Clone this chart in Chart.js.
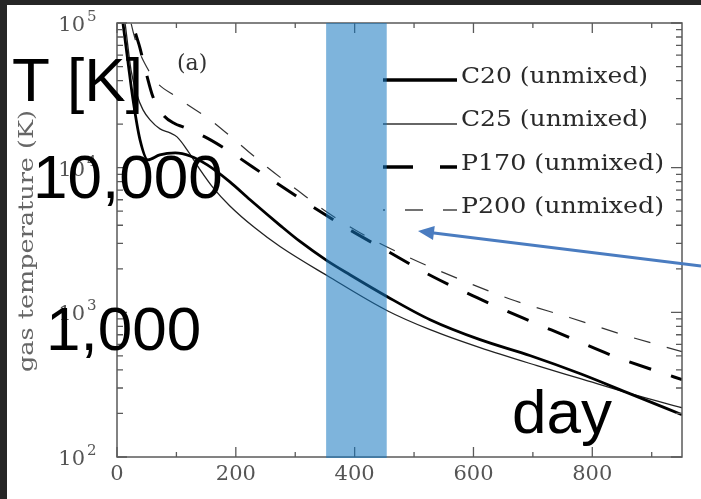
<!DOCTYPE html>
<html>
<head>
<meta charset="utf-8">
<script src="https://cdn.jsdelivr.net/npm/chart.js@4"></script>
<style>
  html, body { margin: 0; padding: 0; background: #262626; }
  canvas { display: block; }
</style>
</head>
<body>
<canvas id="tempChart" width="701" height="499"></canvas>
<script>
// days since explosion and gas temperature (K) for each model
const c20Day  = [2, 10, 18.5, 27, 38.7, 52, 72, 98, 123, 152, 190, 224, 275, 308, 354, 392, 455, 527, 611, 696, 780, 864, 951];
const c20Temp = [169000, 100000, 53800, 29400, 15600, 11320, 12250, 12640, 12050, 10450, 7980, 6000, 3980, 3090, 2270, 1820, 1282, 889, 647, 501, 376, 273, 196];

const c25Day  = [2, 13.5, 23.6, 33.7, 43.8, 55.6, 72.4, 89.3, 101, 118, 140, 162, 190, 232, 275, 354, 455, 527, 611, 707, 780, 864, 951];
const c25Temp = [198000, 100000, 47300, 31800, 25100, 21400, 18540, 17400, 16320, 13290, 9660, 7250, 5440, 3840, 2840, 1790, 1026, 759, 570, 428, 348, 274, 219];

const p170Day  = [18.5, 27, 38.7, 50, 60, 77.5, 97.7, 111, 148, 185, 253, 322, 389, 460, 532, 606, 682, 758, 834, 911, 951];
const p170Temp = [169000, 100000, 67100, 43700, 31300, 23200, 20100, 19140, 16320, 13290, 8640, 5620, 3780, 2580, 1762, 1262, 918, 679, 502, 389, 343];

const p200Day  = [15, 23.6, 55.6, 103, 157, 204, 254, 305, 355, 409, 493, 583, 670, 763, 852, 951];
const p200Temp = [169000, 100000, 45200, 30300, 21400, 14830, 9980, 6920, 4880, 3550, 2380, 1652, 1202, 918, 700, 535];

const modelNames = ["C20 (unmixed)", "C25 (unmixed)", "P170 (unmixed)", "P200 (unmixed)"];

// axis ticks
const xMajorTicks = [0, 200, 400, 600, 800];
const xMinorTicks = [100, 300, 500, 700, 900];
const yDecades = [100, 1000, 10000, 100000];
const yExponents = ["2", "3", "4", "5"];

// shaded window (days)
const bandStart = 352;
const bandEnd = 454;

function toPoints(days, temps) {
    return days.map((d, i) => ({ x: d, y: temps[i] }));
}

// stretch text horizontally to a given width
function fillFit(ctx, text, x, y, width) {
    const w = ctx.measureText(text).width;
    ctx.save();
    ctx.translate(x, y);
    ctx.scale(width / w, 1);
    ctx.fillText(text, 0, 0);
    ctx.restore();
}

const background = {
    id: "background",
    beforeDraw(chart) {
        const ctx = chart.ctx;
        ctx.save();
        ctx.fillStyle = "#262626";
        ctx.fillRect(0, 0, chart.width, chart.height);
        ctx.fillStyle = "#ffffff";
        ctx.fillRect(7, 5, chart.width - 7, chart.height - 5);
        ctx.restore();
    }
};

const decorations = {
    id: "decorations",
    afterDatasetsDraw(chart) {
        const ctx = chart.ctx;
        const xs = chart.scales.x;
        const ys = chart.scales.y;
        const area = chart.chartArea;
        ctx.save();

        // frame
        ctx.strokeStyle = "#5a5a5a";
        ctx.lineWidth = 1.5;
        ctx.strokeRect(area.left, area.top, area.right - area.left, area.bottom - area.top);

        // x ticks, top and bottom, pointing inwards
        ctx.lineWidth = 1.3;
        ctx.beginPath();
        xMajorTicks.forEach(v => {
            const px = xs.getPixelForValue(v);
            ctx.moveTo(px, area.bottom); ctx.lineTo(px, area.bottom - 10);
            ctx.moveTo(px, area.top); ctx.lineTo(px, area.top + 10);
        });
        xMinorTicks.forEach(v => {
            const px = xs.getPixelForValue(v);
            ctx.moveTo(px, area.bottom); ctx.lineTo(px, area.bottom - 5);
            ctx.moveTo(px, area.top); ctx.lineTo(px, area.top + 5);
        });
        // y ticks, left and right
        yDecades.forEach((dec, i) => {
            const py = ys.getPixelForValue(dec);
            ctx.moveTo(area.left, py); ctx.lineTo(area.left + 10, py);
            ctx.moveTo(area.right, py); ctx.lineTo(area.right - 11, py);
            if (i < yDecades.length - 1) {
                for (let m = 2; m <= 9; m++) {
                    const pm = ys.getPixelForValue(dec * m);
                    ctx.moveTo(area.left, pm); ctx.lineTo(area.left + 6, pm);
                    ctx.moveTo(area.right, pm); ctx.lineTo(area.right - 6, pm);
                }
            }
        });
        ctx.stroke();

        // legend
        const legendX0 = 383, legendX1 = 457, legendTextX = 461;
        const rows = [
            { y: 80, width: 3.5, color: "#000", dash: [] },
            { y: 124, width: 1.3, color: "#333", dash: [] },
            { y: 167, width: 3.5, color: "#000", dash: [30, 27] },
            { y: 210, width: 1.3, color: "#444", dash: [18, 20], offset: -22 }
        ];
        const textY = [83, 126, 170, 213];
        const textW = [187, 187, 203, 203];
        rows.forEach(r => {
            ctx.beginPath();
            ctx.setLineDash(r.dash);
            ctx.lineDashOffset = r.offset || 0;
            ctx.strokeStyle = r.color;
            ctx.lineWidth = r.width;
            ctx.moveTo(legendX0, r.y);
            ctx.lineTo(legendX1, r.y);
            ctx.stroke();
        });
        ctx.setLineDash([]);
        ctx.fillStyle = "#2a2a2a";
        ctx.font = "23px 'DejaVu Serif'";
        ctx.textBaseline = "alphabetic";
        ctx.textAlign = "left";
        modelNames.forEach((name, i) => fillFit(ctx, name, legendTextX, textY[i], textW[i]));

        // shaded window on top of the curves
        const b0 = xs.getPixelForValue(bandStart);
        const b1 = xs.getPixelForValue(bandEnd);
        ctx.fillStyle = "rgba(20, 118, 191, 0.55)";
        ctx.fillRect(b0, area.top, b1 - b0, area.bottom - area.top + 1);

        // arrow pointing at the window
        const tipX = 418, tipY = 231;
        const tailX = 701, tailY = 266;
        const ang = Math.atan2(tailY - tipY, tailX - tipX);
        ctx.strokeStyle = "#4a7cc0";
        ctx.fillStyle = "#4a7cc0";
        ctx.lineWidth = 3;
        ctx.beginPath();
        ctx.moveTo(tailX, tailY);
        ctx.lineTo(tipX + 12 * Math.cos(ang), tipY + 12 * Math.sin(ang));
        ctx.stroke();
        ctx.beginPath();
        ctx.moveTo(tipX, tipY);
        ctx.lineTo(tipX + 16 * Math.cos(ang) - 7 * Math.sin(ang), tipY + 16 * Math.sin(ang) + 7 * Math.cos(ang));
        ctx.lineTo(tipX + 16 * Math.cos(ang) + 7 * Math.sin(ang), tipY + 16 * Math.sin(ang) - 7 * Math.cos(ang));
        ctx.closePath();
        ctx.fill();

        // tick labels
        ctx.fillStyle = "#555";
        ctx.font = "21px 'DejaVu Serif'";
        ctx.textAlign = "center";
        xMajorTicks.forEach(v => ctx.fillText(String(v), xs.getPixelForValue(v), 480));
        yDecades.forEach((dec, i) => {
            const py = ys.getPixelForValue(dec);
            ctx.textAlign = "right";
            ctx.font = "21px 'DejaVu Serif'";
            ctx.fillText("10", 85, py + 8);
            ctx.textAlign = "left";
            ctx.font = "15px 'DejaVu Serif'";
            ctx.fillText(yExponents[i], 87, py - 2);
        });

        // axis title
        ctx.save();
        ctx.translate(33, 241);
        ctx.rotate(-Math.PI / 2);
        ctx.font = "20px 'DejaVu Serif'";
        ctx.textAlign = "left";
        ctx.fillStyle = "#666";
        fillFit(ctx, "gas temperature (K)", -131, 0, 262);
        ctx.restore();

        // panel label
        ctx.fillStyle = "#333";
        ctx.font = "22px 'DejaVu Serif'";
        ctx.textAlign = "left";
        ctx.fillText("(a)", 177, 70);

        // large annotations
        ctx.fillStyle = "#000";
        ctx.font = "62px 'Liberation Sans'";
        ctx.fillText("T [K]", 12, 101);
        ctx.fillText("10,000", 33, 198);
        ctx.fillText("1,000", 46, 350);
        ctx.fillText("day", 512, 433);

        ctx.restore();
    }
};

const ctx = document.getElementById("tempChart").getContext("2d");

new Chart(ctx, {
    type: "line",
    data: {
        datasets: [
            {
                label: modelNames[0],
                data: toPoints(c20Day, c20Temp),
                borderColor: "#000",
                borderWidth: 2.8
            },
            {
                label: modelNames[1],
                data: toPoints(c25Day, c25Temp),
                borderColor: "#222",
                borderWidth: 1.3
            },
            {
                label: modelNames[2],
                data: toPoints(p170Day, p170Temp),
                borderColor: "#000",
                borderWidth: 3,
                borderDash: [23, 21]
            },
            {
                label: modelNames[3],
                data: toPoints(p200Day, p200Temp),
                borderColor: "#333",
                borderWidth: 1.2,
                borderDash: [17, 17]
            }
        ]
    },
    options: {
        responsive: false,
        animation: false,
        events: [],
        elements: {
            point: { radius: 0 },
            line: { cubicInterpolationMode: "monotone", fill: false }
        },
        layout: { padding: { left: 117, top: 23, right: 19, bottom: 42 } },
        plugins: {
            legend: { display: false },
            tooltip: { enabled: false }
        },
        scales: {
            x: { type: "linear", min: 0, max: 951, display: false },
            y: { type: "logarithmic", min: 100, max: 100000, display: false }
        }
    },
    plugins: [background, decorations]
});
</script>
</body>
</html>
